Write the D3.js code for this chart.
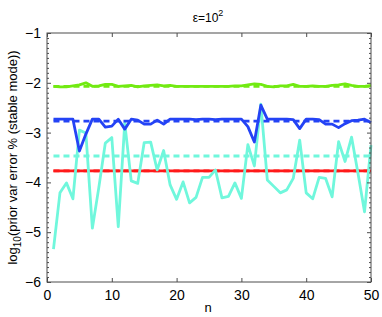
<!DOCTYPE html>
<html><head><meta charset="utf-8">
<script src="https://cdn.jsdelivr.net/npm/d3@7"></script>
<style>body{margin:0;background:#fff}svg{display:block}text{font-family:"Liberation Sans",Arial,Helvetica,sans-serif}</style>
</head><body>
<script>
const nValues = d3.range(1, 51);
const xTicks = [0, 10, 20, 30, 40, 50];
const yTicks = [-6, -5, -4, -3, -2, -1];
const greenSolid = [-2.07,-2.08,-2.08,-2.06,-2.04,-2.00,-2.07,-2.06,-2.03,-2.03,-2.07,-2.06,-2.05,-2.08,-2.06,-2.05,-2.04,-2.06,-2.05,-2.07,-2.07,-2.07,-2.07,-2.07,-2.07,-2.07,-2.07,-2.07,-2.06,-2.06,-2.04,-2.02,-2.03,-2.07,-2.08,-2.06,-2.06,-2.03,-2.07,-2.07,-2.06,-2.07,-2.07,-2.05,-2.04,-2.02,-2.05,-2.07,-2.07,-2.05];
const greenMean = -2.07;
const blueSolid = [-2.73,-2.73,-2.73,-2.73,-3.37,-3.03,-2.73,-2.73,-2.89,-2.87,-2.73,-2.93,-2.73,-2.75,-2.83,-2.83,-2.75,-2.83,-2.73,-2.73,-2.73,-2.73,-2.74,-2.73,-2.73,-2.74,-2.73,-2.73,-2.73,-2.73,-2.88,-3.19,-2.45,-2.73,-2.73,-2.73,-2.73,-2.74,-2.92,-2.73,-2.73,-2.74,-2.83,-2.83,-2.90,-2.82,-2.76,-2.75,-2.73,-2.80];
const blueMean = -2.77;
const cyanSolid = [-5.34,-4.21,-4.01,-4.33,-2.95,-3.01,-4.92,-4.10,-3.21,-3.10,-4.89,-2.81,-3.97,-4.02,-3.20,-3.19,-3.75,-3.36,-4.05,-4.34,-3.99,-4.41,-4.30,-3.90,-3.90,-3.75,-4.31,-4.28,-4.01,-4.32,-3.24,-3.67,-2.43,-3.95,-4.08,-4.21,-4.15,-3.92,-3.15,-4.21,-4.33,-3.90,-3.92,-4.29,-3.18,-3.58,-3.09,-3.82,-4.59,-3.25];
const cyanMean = -3.47;
const redMean = -3.77;

const W = 382, H = 317;
const m = {l: 47, t: 33, r: 11, b: 35};
const svg = d3.select("body").append("svg").attr("width", W).attr("height", H);
const x = d3.scaleLinear().domain([0, 50]).range([m.l, W - m.r]);
const y = d3.scaleLinear().domain([-6, -1]).range([H - m.b, m.t]);
const axCol = "#4d4d4d";

const g = svg.append("g");
const line = d3.line().x((d, i) => x(nValues[i])).y(d => y(d));
const flat = v => nValues.map(() => v);

const series = [
  {data: flat(redMean), color: "#ff1a1a", dash: null},
  {data: flat(redMean), color: "#ff1a1a", dash: "6,4"},
  {data: flat(cyanMean), color: "#70f7dc", dash: "6,4"},
  {data: cyanSolid, color: "#70f7dc", dash: null},
  {data: blueSolid, color: "#2443f5", dash: null},
  {data: flat(blueMean), color: "#2443f5", dash: "6,4"},
  {data: flat(greenMean), color: "#72ea12", dash: "6,4"},
  {data: greenSolid, color: "#72ea12", dash: null}
];
series.forEach(s => {
  g.append("path").attr("d", line(s.data)).attr("fill", "none")
    .attr("stroke", s.color).attr("stroke-width", 2.8)
    .attr("stroke-linejoin", "round")
    .attr("stroke-dasharray", s.dash);
});

// box
svg.append("rect").attr("x", m.l).attr("y", m.t).attr("width", x(50) - m.l).attr("height", y(-6) - m.t)
  .attr("fill", "none").attr("stroke", axCol).attr("stroke-width", 1);

// axes via d3
const xb = svg.append("g").attr("transform", `translate(0,${y(-6)})`)
  .call(d3.axisBottom(x).tickValues(xTicks).tickSize(-4).tickPadding(8).tickFormat(d3.format("d")));
const xt = svg.append("g").attr("transform", `translate(0,${m.t})`)
  .call(d3.axisTop(x).tickValues(xTicks).tickSize(-4).tickFormat(""));
const yl = svg.append("g").attr("transform", `translate(${m.l},0)`)
  .call(d3.axisLeft(y).tickValues(yTicks).tickSize(-4).tickPadding(6).tickFormat(d => "\u2212" + Math.abs(d)));
const yr = svg.append("g").attr("transform", `translate(${x(50)},0)`)
  .call(d3.axisRight(y).tickValues(yTicks).tickSize(-4).tickFormat(""));
const minor = d3.range(-6, -1.0001, 0.1).map(v => +v.toFixed(1)).filter(v => !yTicks.includes(v));
svg.append("g").attr("transform", `translate(${m.l},0)`)
  .call(d3.axisLeft(y).tickValues(minor).tickSize(-2).tickFormat(""));
svg.append("g").attr("transform", `translate(${x(50)},0)`)
  .call(d3.axisRight(y).tickValues(minor).tickSize(-2).tickFormat(""));
svg.selectAll(".domain").remove();
svg.selectAll(".tick line").attr("stroke", axCol);
svg.selectAll(".tick text").attr("fill", "#000").style("font-size", "14px")
  .style("font-family", '"Liberation Sans",Arial,sans-serif');

// labels
svg.append("text").attr("x", x(25) - 1).attr("y", 312).attr("text-anchor", "middle")
  .style("font-size", "13px").text("n");
const yLab = svg.append("text").attr("transform", `translate(17,${(m.t + y(-6)) / 2}) rotate(-90)`)
  .attr("text-anchor", "middle").style("font-size", "13px");
yLab.append("tspan").text("log");
yLab.append("tspan").attr("dy", 4).style("font-size", "10px").text("10");
yLab.append("tspan").attr("dy", -4).text("(prior var error % (stable mode))");
const title = svg.append("text").attr("x", 208).attr("y", 22).attr("text-anchor", "middle").style("font-size", "12px");
title.append("tspan").text("\u03b5=10");
title.append("tspan").attr("dy", -6).style("font-size", "9px").text("2");
</script>
</body></html>
